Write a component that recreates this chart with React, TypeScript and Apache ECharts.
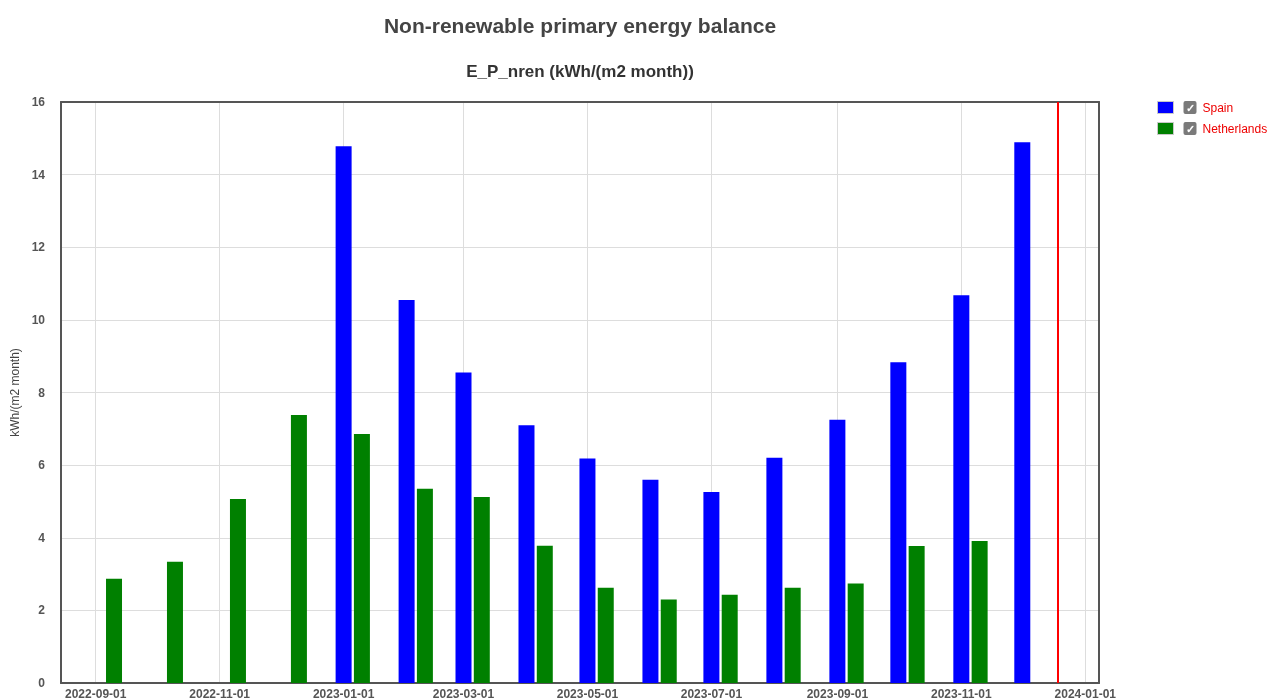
import React, { useEffect, useRef } from "react";
import * as echarts from "echarts";

const TITLE = "Non-renewable primary energy balance";
const SUBTITLE = "E_P_nren (kWh/(m2 month))";
const Y_NAME = "kWh/(m2 month)";

const spainDates = [
  "2023-01-01", "2023-02-01", "2023-03-01", "2023-04-01", "2023-05-01", "2023-06-01",
  "2023-07-01", "2023-08-01", "2023-09-01", "2023-10-01", "2023-11-01", "2023-12-01",
];
const spainValues = [14.78, 10.55, 8.55, 7.1, 6.18, 5.6, 5.26, 6.2, 7.25, 8.83, 10.68, 14.89];

const nlDates = [
  "2022-09-01", "2022-10-01", "2022-11-01", "2022-12-01", "2023-01-01", "2023-02-01",
  "2023-03-01", "2023-04-01", "2023-05-01", "2023-06-01", "2023-07-01", "2023-08-01",
  "2023-09-01", "2023-10-01", "2023-11-01",
];
const nlValues = [2.87, 3.34, 5.07, 7.38, 6.86, 5.35, 5.12, 3.78, 2.62, 2.3, 2.43, 2.62, 2.74, 3.77, 3.91];

const X_MIN = "2022-08-14 22:00";
const X_MAX = "2024-01-07 18:00";
const TODAY_LINE = "2023-12-18 12:00";

const FONT = "'Liberation Sans', Arial, sans-serif";
const BAR_WIDTH = 16;
const FRAME = { show: true, onZero: false, lineStyle: { color: "#555555", width: 2 } };

function pad(n: number) {
  return n < 10 ? "0" + n : "" + n;
}

function barRenderer(offset: number, color: string) {
  return (params: any, api: any) => {
    const x = api.value(0);
    const y = api.value(1);
    const top = api.coord([x, y]);
    const base = api.coord([x, 0]);
    return {
      type: "rect",
      shape: {
        x: top[0] + offset - BAR_WIDTH / 2,
        y: top[1],
        width: BAR_WIDTH,
        height: base[1] - top[1],
      },
      style: { fill: color },
    };
  };
}

export default function App() {
  const ref = useRef<HTMLDivElement>(null);
  useEffect(() => {
    if (!ref.current) return;
    const chart = echarts.init(ref.current, undefined, { renderer: "svg" });
    const toTime = (s: string) => new Date(s.replace(" ", "T")).getTime();
    const day = 86400000;
    const xMin = toTime(X_MIN);
    const xMax = toTime(X_MAX);
    const option: any = {
      animation: false,
      textStyle: { fontFamily: FONT },
      title: [
        {
          text: TITLE,
          left: 575,
          top: 10,
          textAlign: "center",
          textStyle: { fontSize: 21, fontWeight: "bold", color: "#444", fontFamily: FONT },
        },
        {
          text: SUBTITLE,
          left: 575,
          top: 58,
          textAlign: "center",
          textStyle: { fontSize: 17, fontWeight: "bold", color: "#333", fontFamily: FONT },
        },
      ],
      legend: {
        data: ["Spain", "Netherlands"],
        orient: "vertical",
        left: 1152,
        top: 96,
        itemWidth: 16,
        itemHeight: 12,
        itemGap: 8,
        icon: "rect",
        selectedMode: false,
        itemStyle: { borderColor: "#c8c8c8", borderWidth: 1 },
        formatter: (name: string) => "{sp|}{cb|✓}{nm|" + name + "}",
        textStyle: {
          rich: {
            sp: { width: 5, height: 13 },
            cb: {
              backgroundColor: "#7a7a7a",
              color: "#ffffff",
              borderRadius: 2,
              width: 13,
              height: 13,
              align: "center",
              fontSize: 11,
              fontWeight: "bold",
              lineHeight: 13,
            },
            nm: {
              color: "#ee0000",
              fontSize: 12,
              padding: [0, 0, 0, 6],
              fontFamily: FONT,
            },
          },
        },
      },
      grid: {
        left: 61,
        right: 175,
        top: 102,
        bottom: 17,
        show: false,
        containLabel: false,
      },
      xAxis: [
        {
          type: "time",
          min: xMin,
          max: xMax,
          splitNumber: 7,
          minInterval: 61 * day,
          maxInterval: 61 * day,
          axisLine: FRAME,
          axisTick: { show: false },
          splitLine: { show: true, lineStyle: { color: "#dddddd", width: 1 } },
          axisLabel: {
            color: "#555",
            fontWeight: "bold",
            fontSize: 12,
            margin: 5,
            hideOverlap: false,
            formatter: (v: number) => {
              const d = new Date(v);
              return d.getFullYear() + "-" + pad(d.getMonth() + 1) + "-" + pad(d.getDate());
            },
          },
        },
        {
          type: "time",
          position: "top",
          min: xMin,
          max: xMax,
          axisLine: FRAME,
          axisTick: { show: false },
          axisLabel: { show: false },
          splitLine: { show: false },
        },
      ],
      yAxis: [
        {
          type: "value",
          min: 0,
          max: 16,
          interval: 2,
          name: Y_NAME,
          nameLocation: "middle",
          nameGap: 34,
          nameTextStyle: { color: "#444", fontSize: 12, fontFamily: FONT },
          axisLine: FRAME,
          axisTick: { show: false },
          splitLine: { show: true, lineStyle: { color: "#dddddd", width: 1 } },
          axisLabel: { color: "#555", fontWeight: "bold", fontSize: 12, margin: 16 },
        },
        {
          type: "value",
          position: "right",
          min: 0,
          max: 16,
          interval: 2,
          axisLine: FRAME,
          axisTick: { show: false },
          axisLabel: { show: false },
          splitLine: { show: false },
        },
      ],
      series: [
        {
          name: "Spain",
          type: "custom",
          renderItem: barRenderer(0, "#0000ff"),
          encode: { x: 0, y: 1 },
          clip: true,
          itemStyle: { color: "#0000ff" },
          data: spainDates.map((d, i) => [toTime(d), spainValues[i]]),
        },
        {
          name: "Netherlands",
          type: "custom",
          renderItem: barRenderer(18.3, "#008000"),
          encode: { x: 0, y: 1 },
          clip: true,
          itemStyle: { color: "#008000" },
          data: nlDates.map((d, i) => [toTime(d), nlValues[i]]),
          markLine: {
            silent: true,
            symbol: ["none", "none"],
            label: { show: false },
            lineStyle: { color: "#ff0000", width: 2, type: "solid" },
            data: [{ xAxis: toTime(TODAY_LINE) }],
          },
        },
      ],
    };
    chart.setOption(option);
    return () => chart.dispose();
  }, []);
  return (
    <div
      ref={ref}
      style={{ position: "fixed", left: 0, top: 0, width: 1274, height: 700 }}
    />
  );
}
